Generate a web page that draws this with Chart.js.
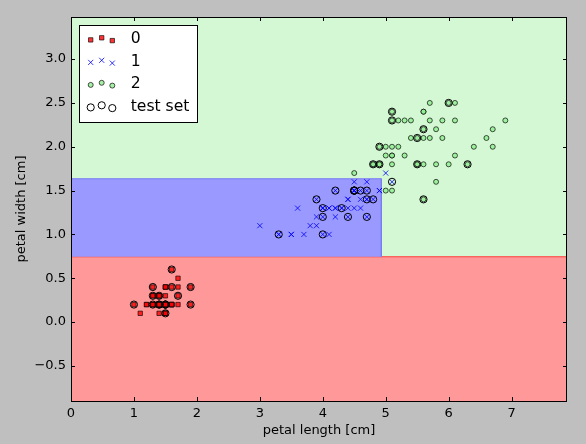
<!DOCTYPE html>
<html><head><meta charset="utf-8">
<script src="https://cdn.jsdelivr.net/npm/chart.js@4.4.0/dist/chart.umd.min.js"></script>
<style>html,body{margin:0;padding:0;background:#bfbfbf;}canvas{display:block;}</style>
</head><body>
<canvas id="c" width="586" height="444"></canvas>
<script>
// ---- data (petal length / petal width, cm) ----
const class0Length = [1.4,1.4,1.3,1.5,1.4,1.7,1.4,1.5,1.4,1.5,1.5,1.6,1.4,1.1,1.2,1.5,1.3,1.4,1.7,1.5,1.7,1.5,1.0,1.7,1.9,1.6,1.6,1.5,1.4,1.6,1.6,1.5,1.5,1.4,1.5,1.2,1.3,1.5,1.3,1.5,1.3,1.3,1.3,1.6,1.9,1.4,1.6,1.4,1.5,1.4];
const class0Width  = [0.2,0.2,0.2,0.2,0.2,0.4,0.3,0.2,0.2,0.1,0.2,0.2,0.1,0.1,0.2,0.4,0.4,0.3,0.3,0.3,0.2,0.4,0.2,0.5,0.2,0.2,0.4,0.2,0.2,0.2,0.2,0.4,0.1,0.2,0.1,0.2,0.2,0.1,0.2,0.2,0.3,0.3,0.2,0.6,0.4,0.3,0.2,0.2,0.2,0.2];
const class1Length = [4.7,4.5,4.9,4.0,4.6,4.5,4.7,3.3,4.6,3.9,3.5,4.2,4.0,4.7,3.6,4.4,4.5,4.1,4.5,3.9,4.8,4.0,4.9,4.7,4.3,4.4,4.8,5.0,4.5,3.5,3.8,3.7,3.9,5.1,4.5,4.5,4.7,4.4,4.1,4.0,4.4,4.6,4.0,3.3,4.2,4.2,4.2,4.3,3.0,4.1];
const class1Width  = [1.4,1.5,1.5,1.3,1.5,1.3,1.6,1.0,1.3,1.4,1.0,1.5,1.0,1.4,1.3,1.4,1.5,1.0,1.5,1.1,1.8,1.3,1.5,1.2,1.3,1.4,1.4,1.7,1.5,1.0,1.1,1.0,1.2,1.6,1.5,1.6,1.5,1.3,1.3,1.3,1.2,1.4,1.2,1.0,1.3,1.2,1.3,1.3,1.1,1.3];
const class2Length = [6.0,5.1,5.9,5.6,5.8,6.6,4.5,6.3,5.8,6.1,5.1,5.3,5.5,5.0,5.1,5.3,5.5,6.7,6.9,5.0,5.7,4.9,6.7,4.9,5.7,6.0,4.8,4.9,5.6,5.8,6.1,6.4,5.6,5.1,5.6,6.1,5.6,5.5,4.8,5.4,5.6,5.1,5.1,5.9,5.7,5.2,5.0,5.2,5.4,5.1];
const class2Width  = [2.5,1.9,2.1,1.8,2.2,2.1,1.7,1.8,1.8,2.5,2.0,1.9,2.1,2.0,2.4,2.3,1.8,2.2,2.3,1.5,2.3,2.0,2.0,1.8,2.1,1.8,1.8,1.8,2.1,1.6,1.9,2.0,2.2,1.5,1.4,2.3,2.4,1.8,1.8,2.1,2.4,2.3,1.9,2.3,2.5,2.3,1.9,2.0,2.3,1.8];
const testLength = [5.1,4.0,1.4,6.3,1.5,6.0,1.3,4.7,4.8,4.0,5.6,4.5,4.7,4.6,4.7,1.5,4.5,4.4,1.4,1.3,4.9,4.5,1.9,1.4,4.8,1.0,1.9,4.3,3.3,1.6,5.5,4.5,1.5,4.9,5.6,3.9,1.7,5.1,4.2,4.0,5.5,1.3,5.1,1.6,1.5];
const testWidth  = [2.4,1.0,0.2,1.8,0.2,2.5,0.3,1.5,1.4,1.3,1.4,1.5,1.2,1.5,1.4,0.1,1.5,1.2,0.3,0.4,2.0,1.5,0.2,0.2,1.8,0.2,0.4,1.3,1.0,0.4,1.8,1.5,0.2,1.8,2.2,1.4,0.3,1.6,1.5,1.2,2.1,0.2,2.3,0.6,0.2];
const legendLabels = ['0', '1', '2', 'test set'];
// decision-tree region boundaries
const splitWidthLow = 0.745;
const splitLength = 4.93;
const splitWidthHigh = 1.635;
const xLimits = [0, 7.88];
const yLimits = [-0.9, 3.48];
const xTickValues = [0, 1, 2, 3, 4, 5, 6, 7];
const yTickValues = [-0.5, 0.0, 0.5, 1.0, 1.5, 2.0, 2.5, 3.0];

const pts = (xs, ys) => xs.map((v, i) => ({x: v, y: ys[i]}));

Chart.defaults.font.family = "'DejaVu Sans', sans-serif";
Chart.defaults.color = '#000';

function drawMark(ctx, d, x, y) {
  ctx.beginPath();
  const r = d.pointRadius;
  if (d.pointStyle === 'rect') {
    const s = r * Math.SQRT1_2; ctx.rect(x - s, y - s, 2 * s, 2 * s);
  } else if (d.pointStyle === 'crossRot') {
    const s = r * Math.SQRT1_2;
    ctx.moveTo(x - s, y - s); ctx.lineTo(x + s, y + s);
    ctx.moveTo(x - s, y + s); ctx.lineTo(x + s, y - s);
  } else {
    ctx.arc(x, y, r, 0, Math.PI * 2);
  }
  ctx.fillStyle = d.backgroundColor || 'rgba(0,0,0,0)';
  ctx.strokeStyle = d.borderColor; ctx.lineWidth = d.borderWidth;
  if (d.pointStyle !== 'crossRot') ctx.fill();
  ctx.stroke();
}

const bgPlugin = {
  id: 'bg',
  beforeDraw(chart) {
    const ctx = chart.ctx; ctx.save(); ctx.fillStyle = '#bfbfbf';
    ctx.fillRect(0, 0, chart.width, chart.height); ctx.restore();
  }
};

const framePlugin = {
  id: 'frame',
  afterDatasetsDraw(chart) {
    const {ctx, chartArea: a, scales: {x, y}} = chart;
    ctx.save();
    ctx.strokeStyle = '#000'; ctx.lineWidth = 1;
    ctx.strokeRect(a.left + 0.5, a.top + 0.5, a.right - a.left - 1, a.bottom - a.top);
    ctx.beginPath();
    x.ticks.forEach(t => {
      const px = Math.round(x.getPixelForValue(t.value)) + 0.5;
      ctx.moveTo(px, a.bottom); ctx.lineTo(px, a.bottom - 4);
      ctx.moveTo(px, a.top); ctx.lineTo(px, a.top + 4);
    });
    y.ticks.forEach(t => {
      const py = Math.round(y.getPixelForValue(t.value)) + 0.5;
      ctx.moveTo(a.left, py); ctx.lineTo(a.left + 4, py);
      ctx.moveTo(a.right, py); ctx.lineTo(a.right - 4, py);
    });
    ctx.stroke();
    ctx.restore();
  }
};

const legendPlugin = {
  id: 'pyLegend',
  afterDraw(chart) {
    const {ctx, chartArea: a} = chart;
    const bx = a.left + 8.5, by = a.top + 8.5, bw = 118, bh = 97;
    ctx.save();
    ctx.fillStyle = '#fff'; ctx.fillRect(bx, by, bw, bh);
    ctx.strokeStyle = '#000'; ctx.lineWidth = 1; ctx.strokeRect(bx, by, bw, bh);
    const rows = legendLabels.map(l => chart.data.datasets.find(d => d.inLegend && d.label === l));
    const offX = [11.2, 22.2, 32.8], offY = [1.7, -0.4, 2.4];
    rows.forEach((d, i) => {
      const cy = by + 12.7 + i * 22.5;
      offX.forEach((ox, k) => drawMark(ctx, d, bx + ox, cy + offY[k]));
      ctx.fillStyle = '#000';
      ctx.font = "15.6px 'DejaVu Sans', sans-serif";
      ctx.textBaseline = 'middle'; ctx.textAlign = 'left';
      ctx.fillText(d.label, bx + 51.2, cy + 1);
    });
    ctx.restore();
  }
};

const regionBase = {type: 'line', showLine: true, pointRadius: 0, tension: 0};

new Chart(document.getElementById('c'), {
  type: 'scatter',
  data: {
    datasets: [
      {label: legendLabels[3], data: pts(testLength, testWidth), pointStyle: 'circle', pointRadius: 3.6,
       backgroundColor: 'rgba(0,0,0,0)', borderColor: '#000', borderWidth: 1, order: 0, inLegend: true},
      {label: legendLabels[2], data: pts(class2Length, class2Width), pointStyle: 'circle', pointRadius: 2.5,
       backgroundColor: 'rgba(144,238,144,0.8)', borderColor: 'rgba(0,0,0,0.75)', borderWidth: 0.9, order: 1, inLegend: true},
      {label: legendLabels[1], data: pts(class1Length, class1Width), pointStyle: 'crossRot', pointRadius: 3.6,
       backgroundColor: 'rgba(0,0,255,0.8)', borderColor: 'rgba(0,0,255,0.8)', borderWidth: 1, order: 2, inLegend: true},
      {label: legendLabels[0], data: pts(class0Length, class0Width), pointStyle: 'rect', pointRadius: 3.1,
       backgroundColor: 'rgba(255,0,0,0.8)', borderColor: 'rgba(0,0,0,0.8)', borderWidth: 0.8, order: 3, inLegend: true},
      Object.assign({}, regionBase, {label: 'region 1',
        data: [{x: xLimits[0], y: splitWidthHigh}, {x: splitLength, y: splitWidthHigh}, {x: splitLength, y: splitWidthLow}],
        fill: {value: splitWidthLow}, backgroundColor: '#9999ff', borderColor: '#7b7bf2', borderWidth: 1, order: 4}),
      Object.assign({}, regionBase, {label: 'region 0',
        data: [{x: xLimits[0], y: splitWidthLow}, {x: xLimits[1], y: splitWidthLow}],
        fill: {value: yLimits[0]}, backgroundColor: '#ff9999', borderColor: '#ff3a3a', borderWidth: 1, order: 5}),
      Object.assign({}, regionBase, {label: 'region 2',
        data: [{x: xLimits[0], y: yLimits[1]}, {x: xLimits[1], y: yLimits[1]}],
        fill: {value: yLimits[0]}, backgroundColor: '#d3f8d3', borderColor: 'rgba(0,0,0,0)', borderWidth: 0, order: 6})
    ]
  },
  options: {
    responsive: false, animation: false, devicePixelRatio: 1, events: [],
    layout: {padding: {top: 17, right: 19, left: 0, bottom: 0}},
    plugins: {legend: {display: false}, tooltip: {enabled: false}},
    scales: {
      x: {type: 'linear', min: xLimits[0], max: xLimits[1],
        afterBuildTicks: s => { s.ticks = xTickValues.map(v => ({value: v})); },
        afterFit: s => { s.height = 43; },
        grid: {display: false, drawTicks: false}, border: {display: false},
        ticks: {color: '#000', font: {size: 13}, padding: 5, maxRotation: 0, autoSkip: false,
          callback: v => String(v)},
        title: {display: true, text: 'petal length [cm]', color: '#000', font: {size: 13}, padding: {top: 0, bottom: 6}}},
      y: {type: 'linear', min: yLimits[0], max: yLimits[1],
        afterBuildTicks: s => { s.ticks = yTickValues.map(v => ({value: v})); },
        afterFit: s => { s.width = 71; },
        grid: {display: false, drawTicks: false}, border: {display: false},
        ticks: {color: '#000', font: {size: 13}, padding: 5, autoSkip: false,
          callback: v => (v < 0 ? '\u2212' : '') + Math.abs(v).toFixed(1)},
        title: {display: true, text: 'petal width [cm]', color: '#000', font: {size: 13}, padding: {top: 14, bottom: 0}}}
    }
  },
  plugins: [bgPlugin, framePlugin, legendPlugin]
});
</script>
</body></html>
